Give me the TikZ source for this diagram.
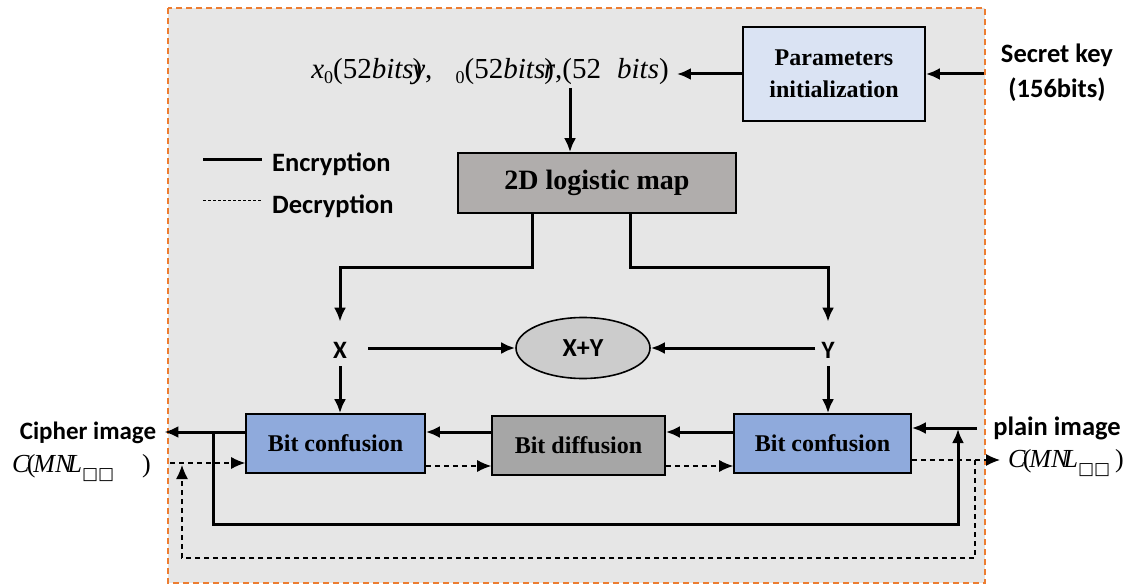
\documentclass[tikz,border=0pt]{standalone}
\usepackage{fontspec}
\setmainfont{Liberation Serif}
\newfontfamily\calfont{Carlito}
\newfontfamily\boxfont{DejaVu Sans}
\usetikzlibrary{arrows.meta, shapes.geometric, calc}
\definecolor{frameor}{HTML}{ED7D31}
\definecolor{bgg}{HTML}{E6E6E6}
\definecolor{lb}{HTML}{DAE3F3}
\definecolor{mb}{HTML}{8FAADC}
\definecolor{dg}{HTML}{A6A6A6}
\definecolor{mg}{HTML}{B0ADAC}
\definecolor{eg}{HTML}{CCCCCC}
\newcommand{\cmnl}[1]{\textit{C}\kern-3pt(\kern-2pt\textit{MN}\kern-6pt\textit{L}\raisebox{-7pt}{\boxfont\fontsize{17}{17}\selectfont □□}\hspace{#1})}

\begin{document}
\begin{tikzpicture}[x=1pt, y=-1pt,
    blk/.style={draw, line width=1.6pt, inner sep=0pt, align=center, font=\bfseries\fontsize{24}{32}\selectfont},
    lbl/.style={inner sep=0pt, font=\calfont\bfseries\fontsize{26.5}{35}\selectfont},
    enc/.style={line width=3pt, -{Latex[length=14pt,width=12pt]}},
    dec/.style={line width=1.2pt, dash pattern=on 5pt off 4pt, -{Latex[length=14pt,width=12pt]}}]
	\useasboundingbox (0,0) rectangle (1125,588);

	% Frame
	\draw[frameor, line width=1.5pt, dash pattern=on 6pt off 4pt, fill=bgg] (168,8) rectangle (985,583);

	% Blocks
	\node[blk, fill=lb, minimum width=182pt, minimum height=94pt] (par) at (834,74) {Parameters\\initialization};
	\node[blk, fill=mg, minimum width=278pt, minimum height=60pt, font=\bfseries\fontsize{28}{32}\selectfont] (map) at (597,183) {2D logistic map};
	\node[draw, ellipse, line width=1.6pt, fill=eg, minimum width=134pt, minimum height=61pt, inner sep=0pt, font=\calfont\bfseries\fontsize{26}{27}\selectfont] (xy) at (583,348) {X+Y};
	\node[blk, fill=mb, minimum width=179pt, minimum height=59pt] (bc1) at (335.5,443.5) {Bit confusion};
	\node[blk, fill=dg, minimum width=173pt, minimum height=59pt] (bd) at (578.5,445.5) {Bit diffusion};
	\node[blk, fill=mb, minimum width=177pt, minimum height=59pt] (bc2) at (822.5,443.5) {Bit confusion};

	% Labels
	\node[lbl, align=center] (key) at (1057,73) {Secret key\\(156bits)};
	\node[inner sep=0pt, font=\fontsize{29}{31}\selectfont] (keyt) at (490,72)
		{\textit{x}\raisebox{-5pt}{\fontsize{18}{18}\selectfont 0}(52\textit{bits}\kern-1pt)\kern-10pt\textit{y}, \hspace{16pt}\raisebox{-5pt}{\fontsize{18}{18}\selectfont 0}(52\textit{bits}\kern-1pt)\kern-10pt\textit{r},(52\hspace{16pt}\textit{bits})};
	\node[lbl, font=\calfont\bfseries\fontsize{25}{27}\selectfont] (x) at (340,350) {X};
	\node[lbl, font=\calfont\bfseries\fontsize{25}{27}\selectfont] (y) at (828,350) {Y};
	\node[lbl, font=\calfont\bfseries\fontsize{25}{35}\selectfont] (cipher) at (88,433) {Cipher image};
	\node[lbl] (plain) at (1057,428) {plain image};
	\node[inner sep=0pt, anchor=west, font=\fontsize{26}{28}\selectfont] (cin) at (12,468) {\cmnl{28pt}};
	\node[inner sep=0pt, anchor=west, font=\fontsize{26}{28}\selectfont] (cout) at (1008,463) {\cmnl{5pt}};

	% Legend
	\node[lbl, anchor=west] (enctext) at (272,164) {Encryption};
	\node[lbl, anchor=west] (dectext) at (272,206) {Decryption};
	\draw[line width=3pt] ([xshift=-69pt]enctext.west |- 0,160) -- ([xshift=-10pt]enctext.west |- 0,160);
	\draw[line width=0.8pt, dash pattern=on 3pt off 2pt] ([xshift=-69pt]dectext.west |- 0,200) -- ([xshift=-10pt]dectext.west |- 0,200);

	% Rows and taps
	\coordinate (erow) at (0,432);
	\coordinate (drow) at (0,466);
	\coordinate (tap) at (570,88);
	\coordinate (lb) at (213,432);
	\coordinate (rb) at (958,429);
	\coordinate (ld) at (182,465);
	\coordinate (rd) at (975,460);

	% Key path
	\draw[enc] ([xshift=-17pt]key.west |- par) -- (par.east);
	\draw[enc] (par.west) -- ([xshift=8pt]keyt.east |- par.west);
	\draw[enc] (tap) -- (tap |- map.north);

	% Map to X and Y
	\draw[enc] ([xshift=75pt]map.south west) -- ++(0,54) -| ([yshift=20pt]x.north);
	\draw[enc] ([xshift=-106pt]map.south east) -- ++(0,54) -| ([yshift=20pt]y.north);
	\draw[enc] ([xshift=21pt]x.east |- xy.west) -- (xy.west);
	\draw[enc] ([xshift=-6pt]y.west |- xy.east) -- (xy.east);
	\draw[enc] ([yshift=-8pt]x.south) -- (x.south |- bc1.north);
	\draw[enc] ([yshift=-8pt]y.south) -- (y.south |- bc2.north);

	% Encryption
	\draw[enc] ([xshift=-16pt]plain.west) -- (bc2.east |- plain);
	\draw[enc] (bc2.west |- erow) -- (bd.east |- erow);
	\draw[enc] (bd.west |- erow) -- (bc1.east |- erow);
	\draw[enc] (bc1.west |- erow) -- ([xshift=8pt]cipher.east |- erow);
	\draw[enc] (lb) -- ++(0,92) -| (rb);

	% Decryption
	\draw[dec] ([xshift=19pt]cin.east |- 0,463) -- (bc1.west |- 0,463);
	\draw[dec] (bc1.east |- drow) -- (bd.west |- drow);
	\draw[dec] (bd.east |- drow) -- (bc2.west |- drow);
	\draw[dec] (bc2.east |- rd) -- ([xshift=-8pt]cout.west |- rd);
	\draw[dec] (rd) -- ++(0,98) -| (ld);
\end{tikzpicture}
\end{document}
